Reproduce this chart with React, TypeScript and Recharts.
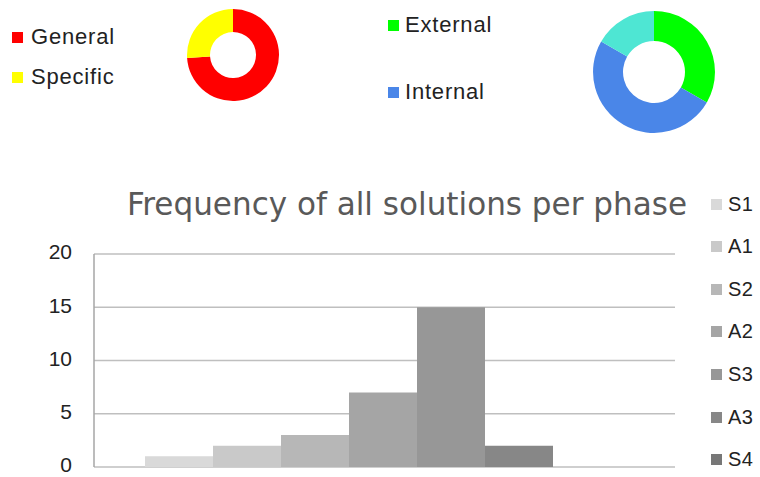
import { PieChart, Pie, Cell, BarChart, Bar, XAxis, YAxis, CartesianGrid } from "recharts"

const scopeNames = ["General", "Specific"]
const scopeValues = [74, 26]
const scopeColors = ["#ff0000", "#ffff00"]

const sourceNames = ["External", "Internal", ""]
const sourceValues = [2, 3, 1]
const sourceColors = ["#00ff00", "#4a86e8", "#4ee6d3"]

const phases = ["S1", "A1", "S2", "A2", "S3", "A3", "S4"]
const phaseCounts = [1, 2, 3, 7, 15, 2, 0]
const phaseColors = ["#d9d9d9", "#c9c9c9", "#b7b7b7", "#a5a5a5", "#979797", "#878787", "#777777"]
const yTicks = [0, 5, 10, 15, 20]

const font = "Arial, 'Liberation Sans', sans-serif"

// y tick, nudged up a little so "0" stays inside the page
const YTick = (props: any) => {
  const { x, y, payload } = props
  return (
    <text x={x} y={y - 2} dy="0.355em" textAnchor="end" fill="#222" fontSize={21} fontFamily={font}>
      {payload.value}
    </text>
  )
}

export default function App() {
  const scopeData = scopeNames.map((name, i) => ({ name, value: scopeValues[i] }))
  const sourceData = sourceNames.map((name, i) => ({ name: name || "other", value: sourceValues[i] }))
  const row: Record<string, number | string> = { name: "all" }
  phases.forEach((p, i) => { row[p] = phaseCounts[i] })

  // legend row, placed by its vertical centre
  const legendItem = (label: string, color: string, cy: number, left: number, size: number, ls: number, gap: number) => (
    <div key={label} style={{
      position: "absolute", left, top: cy - 12, height: 24, display: "flex", alignItems: "center",
      fontFamily: font, fontSize: size, letterSpacing: ls, color: "#222", whiteSpace: "nowrap",
    }}>
      <span style={{ width: 11, height: 11, background: color, marginRight: gap, display: "inline-block" }} />
      {label}
    </div>
  )

  return (
    <div style={{ position: "absolute", left: 0, top: 0, width: 760, height: 477, background: "#fff", overflow: "hidden" }}>
      {/* donut legends */}
      {scopeNames.map((n, i) => legendItem(n, scopeColors[i], 37 + i * 40, 12, 22, 0.8, 8))}
      {sourceNames.filter(Boolean).map((n, i) => legendItem(n, sourceColors[i], 25 + i * 67, 388, 22, 0.8, 6))}

      <div style={{ position: "absolute", left: 185, top: 7 }}>
        <PieChart width={96} height={96} margin={{ top: 0, right: 0, bottom: 0, left: 0 }}>
          <Pie data={scopeData} dataKey="value" cx={48} cy={48} innerRadius={23} outerRadius={46}
            startAngle={90} endAngle={-270} stroke="none" isAnimationActive={false}>
            {scopeData.map((d, i) => <Cell key={d.name} fill={scopeColors[i]} />)}
          </Pie>
        </PieChart>
      </div>

      <div style={{ position: "absolute", left: 590, top: 8 }}>
        <PieChart width={128} height={128} margin={{ top: 0, right: 0, bottom: 0, left: 0 }}>
          <Pie data={sourceData} dataKey="value" cx={64} cy={64} innerRadius={31} outerRadius={61}
            startAngle={90} endAngle={-270} stroke="none" isAnimationActive={false}>
            {sourceData.map((d, i) => <Cell key={d.name} fill={sourceColors[i]} />)}
          </Pie>
        </PieChart>
      </div>

      {/* title */}
      <svg style={{ position: "absolute", left: 0, top: 180 }} width={760} height={45}>
        <text x={127} y={35} textLength={560} lengthAdjust="spacingAndGlyphs"
          fontFamily="'DejaVu Sans Condensed', 'DejaVu Sans', sans-serif" fontSize={32} fill="#595959">
          Frequency of all solutions per phase
        </text>
      </svg>

      <div style={{ position: "absolute", left: 0, top: 240 }}>
        <BarChart width={700} height={237} data={[row]} margin={{ top: 14, right: 25, bottom: 10, left: 0 }}
          barCategoryGap={51} barGap={0}>
          <CartesianGrid vertical={false} stroke="#bfbfbf" strokeWidth={1.5} />
          <XAxis dataKey="name" hide />
          <YAxis width={94} domain={[0, 20]} ticks={yTicks} interval={0} tickLine={false}
            axisLine={{ stroke: "#a6a6a6", strokeWidth: 1.5 }} tickMargin={16} tick={<YTick />} />
          {phases.map((p, i) => (
            <Bar key={p} dataKey={p} fill={phaseColors[i]} isAnimationActive={false} />
          ))}
        </BarChart>
      </div>

      {/* bar legend */}
      {phases.map((p, i) => legendItem(p, phaseColors[i], 204 + i * 42.6, 711, 20, 0.3, 6))}
    </div>
  )
}
